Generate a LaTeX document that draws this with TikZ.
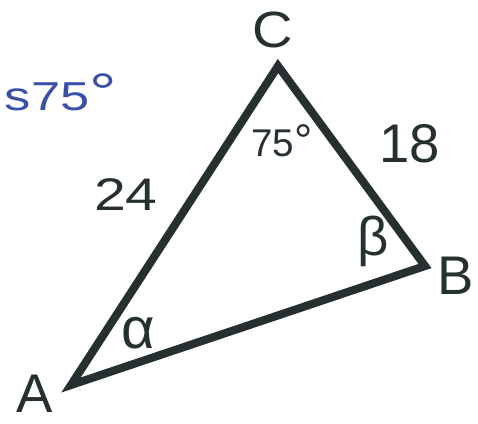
\documentclass[tikz,border=0pt]{standalone}
\usepackage{fontspec}
\setmainfont{Liberation Sans}
\usepackage{tikz}
\usetikzlibrary{positioning,calc}
\definecolor{inkBlue}{HTML}{3A4FA8}
\definecolor{scanGray}{HTML}{263030}

\begin{document}
\begin{tikzpicture}[font=\fontsize{31}{34}\selectfont,
  side/.style={draw=scanGray,line width=4.6pt,line join=miter},
  lbl/.style={inner sep=0pt,text=scanGray},
  ang/.style={lbl,font=\fontsize{22}{24}\selectfont}]
\useasboundingbox (0,0) rectangle (9.56,8.46);
% --- triangle ---
\coordinate (A) at (1.42,0.76);
\coordinate (B) at (8.50,3.14);
\coordinate (C) at (5.56,7.14);
\draw[side] (A)--(B)--(C)--cycle;
% vertex names
\node[lbl] (nA) at (0.70,0.58) {A};
\node[lbl] (nB) at (9.12,2.94) {B};
\node[lbl,font=\fontsize{29}{32}\selectfont] (nC) at (5.46,7.86) {\scalebox{1.1}[1]{C}};
% sides and angles
\node[lbl,font=\fontsize{26}{28}\selectfont] (sAC) at (2.52,4.56) {\scalebox{1.25}[1]{24}};
\node[lbl] (sBC) at (8.20,5.58) {18};
\node[ang] (gC) at (5.64,5.64) {75{\fontsize{26}{26}\selectfont °}};
\node[lbl,font=\fontsize{31}{34}\selectfont] (gB) at (7.46,3.64) {β};
\node[lbl,font=\fontsize{33}{36}\selectfont] (gA) at (2.76,1.80) {α};
% note
\node[lbl,text=inkBlue,font=\fontsize{23}{26}\selectfont] (note) at (1.22,6.62)
  {\scalebox{1.3}[1]{s75{\fontsize{30}{30}\selectfont °}}};
\end{tikzpicture}
\end{document}
